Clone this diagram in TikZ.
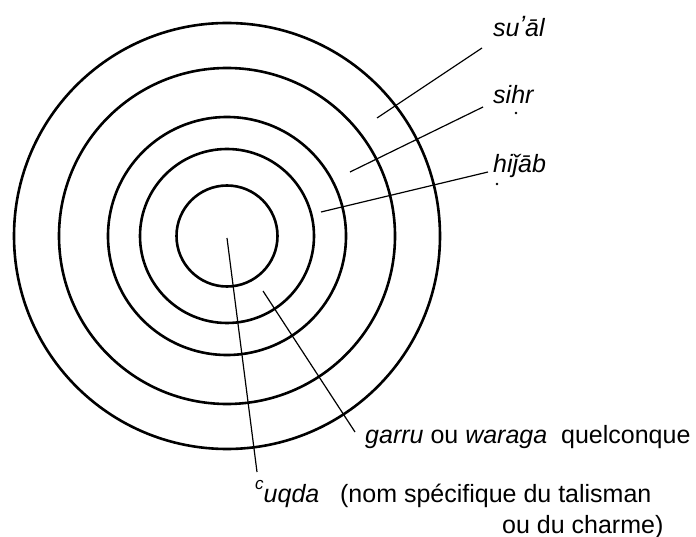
\documentclass[tikz,border=0pt]{standalone}
\usepackage{fontspec}
\setmainfont{Liberation Sans}
\begin{document}
\begin{tikzpicture}[x=1pt,y=-1pt,
  ring/.style={draw, circle, line width=2.6pt, inner sep=0pt},
  leader/.style={line width=1.2pt},
  dotmark/.style={fill, circle, inner sep=0pt, minimum size=2.6pt},
  lbl/.style={anchor=base west, inner sep=0pt, font=\fontsize{25}{30}\selectfont}]
\useasboundingbox (0,0) rectangle (696,537);
\coordinate (O) at (227,236);
\node[ring, minimum size=426pt] (r1) at (O) {};
\node[ring, minimum size=336pt] (r2) at (O) {};
\node[ring, minimum size=238pt] (r3) at (O) {};
\node[ring, minimum size=174pt] (r4) at (O) {};
\node[ring, minimum size=101pt] (r5) at (O) {};
% labels
\node[lbl] (sual) at (493,37) {\itshape su\raisebox{0.12em}{’}āl};
\node[lbl] (sihr) at (493,104) {\itshape sihr};
\node[dotmark] (sihrdot) at (516,113) {};
\node[lbl] (hijab) at (493,173) {\itshape hiǰāb};
\node[dotmark] (hijabdot) at (497,184) {};
\node[lbl] (garru) at (365,443) {\textit{garru} ou \textit{waraga}\ \ quelconque};
\node[lbl] (uqda) at (255,502) {\raisebox{0.5em}{\fontsize{17}{20}\selectfont\itshape c}\textit{uqda}\ \ \ (nom spécifique du talisman};
\node[lbl] (charme) at (502,533) {ou du charme)};
% leader ends
\coordinate (sualA) at (377,118);
\coordinate (sualB) at (482,48);
\coordinate (sihrA) at (350,172);
\coordinate (sihrB) at (483,107);
\coordinate (hijabA) at (321,212);
\coordinate (hijabB) at (488,172);
\coordinate (garruA) at (263,291);
\coordinate (garruB) at (355,432);
\coordinate (uqdaA) at (227,238);
\coordinate (uqdaB) at (257,472);
\draw[leader] (sualA) -- (sualB);
\draw[leader] (sihrA) -- (sihrB);
\draw[leader] (hijabA) -- (hijabB);
\draw[leader] (garruA) -- (garruB);
\draw[leader] (uqdaA) -- (uqdaB);
\end{tikzpicture}
\end{document}
